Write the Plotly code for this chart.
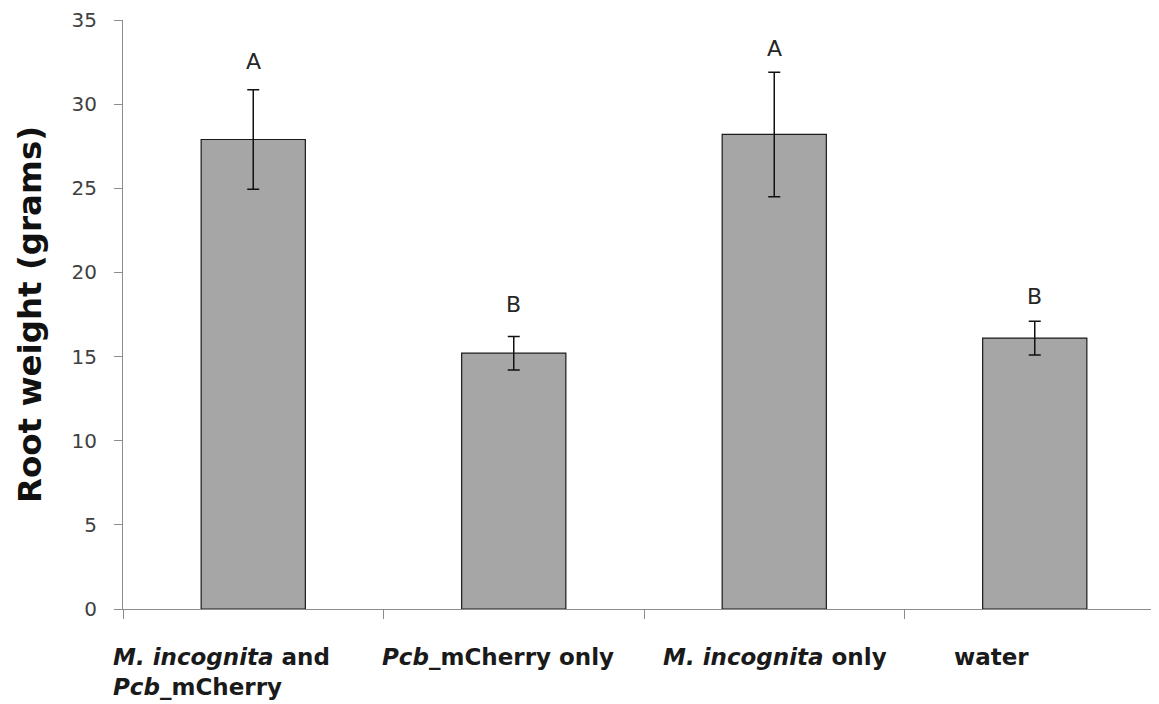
import plotly.graph_objects as go

categories = ["M. incognita and Pcb_mCherry", "Pcb_mCherry only", "M. incognita only", "water"]
category_labels = [
    "<b><i>M. incognita</i> and</b><br><b><i>Pcb</i>_mCherry</b>",
    "<b><i>Pcb</i>_mCherry only</b>",
    "<b><i>M. incognita</i> only</b>",
    "<b>water</b>",
]
root_weight = [27.9, 15.2, 28.2, 16.1]
error = [2.95, 1.0, 3.7, 1.0]
letters = ["A", "B", "A", "B"]
letter_y = [32.55, 18.1, 33.3, 18.55]
y_ticks = [0, 5, 10, 15, 20, 25, 30, 35]

FONT = "DejaVu Sans"

fig = go.Figure()
fig.add_trace(go.Bar(
    x=categories, y=root_weight, width=0.4,
    marker=dict(color="#a6a6a6", line=dict(color="#1a1a1a", width=1.2)),
    error_y=dict(type="data", array=error, visible=True, color="#111111", thickness=1.5, width=6),
    showlegend=False,
))

for c, l, ly in zip(categories, letters, letter_y):
    fig.add_annotation(x=c, y=ly, xref="x", yref="y", text=l, showarrow=False,
                       font=dict(family=FONT, size=22, color="#262626"), yanchor="middle")

# left edges of the category labels, in paper fraction of the plot width
label_x = [-0.0115, 0.2466, 0.5163, 0.7956]
for lx, lab in zip(label_x, category_labels):
    fig.add_annotation(x=lx, y=-0.056, xref="paper", yref="paper", text=lab, showarrow=False,
                       xanchor="left", yanchor="top", align="left",
                       font=dict(family=FONT, size=23, color="#1a1a1a"))

fig.update_layout(
    width=1159, height=704,
    margin=dict(l=115, r=2, t=12, b=103),
    plot_bgcolor="white", paper_bgcolor="white",
    font=dict(family=FONT),
    bargap=0.6,
)
fig.update_xaxes(
    type="category", range=[-0.5, 3.5], showticklabels=False, automargin=False,
    showline=True, linecolor="#8c8c8c", linewidth=1.2,
    ticks="outside", tickson="boundaries", ticklen=9, tickcolor="#8c8c8c",
    showgrid=False, zeroline=False,
)
fig.update_yaxes(
    range=[0, 35], tickvals=y_ticks, showline=True, linecolor="#8c8c8c", linewidth=1.2,
    automargin=False,
    ticks="outside", ticklen=8, tickcolor="#8c8c8c", showgrid=False, zeroline=False,
    ticklabelstandoff=13,
    tickfont=dict(family=FONT, size=20, color="#404040"),
    title=dict(text="<b>Root weight (grams)</b>", font=dict(family=FONT, size=32.5, color="#111111"), standoff=20),
)

fig.write_html("out.html")
